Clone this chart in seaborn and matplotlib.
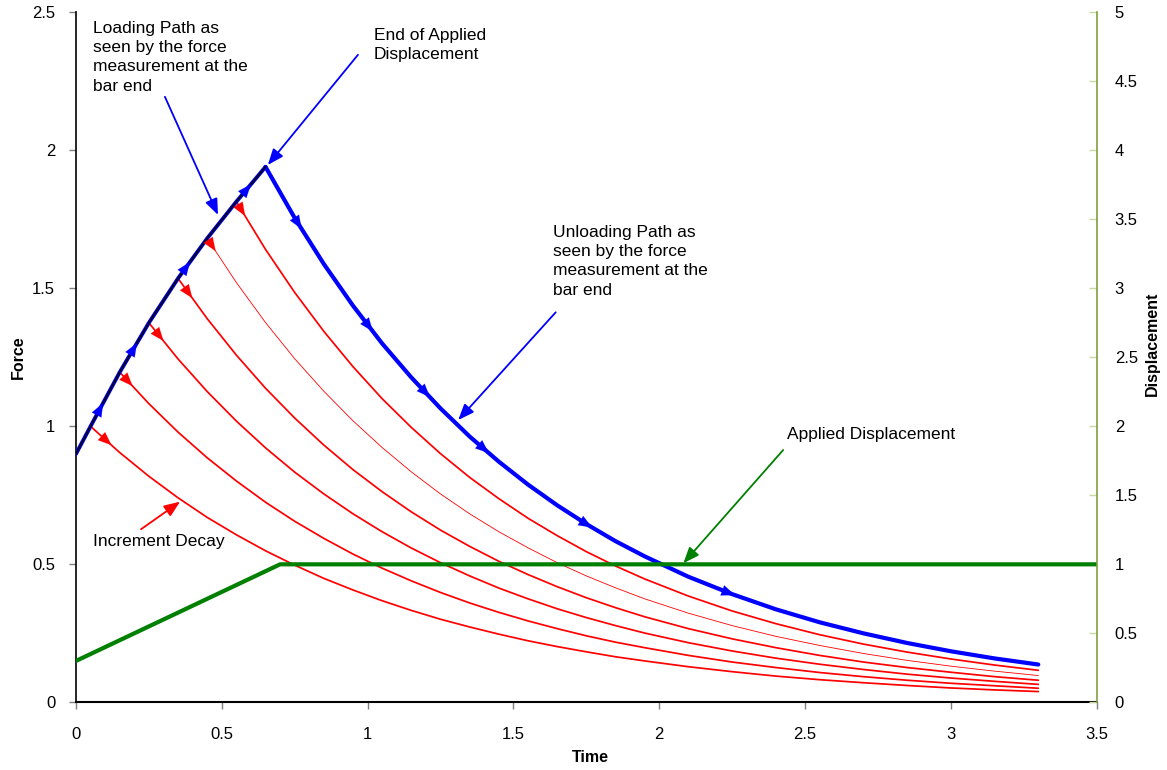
import numpy as np
import matplotlib
matplotlib.use("Agg")
import matplotlib.pyplot as plt
import seaborn as sns
from matplotlib.ticker import FuncFormatter

sns.set_theme(style="white")
plt.rcParams["font.family"] = ["Liberation Sans", "DejaVu Sans"]
plt.rcParams["text.color"] = "black"
plt.rcParams["axes.labelcolor"] = "black"
plt.rcParams["xtick.color"] = "black"
plt.rcParams["ytick.color"] = "black"

# Data
load_time = [0.0, 0.05, 0.15, 0.25, 0.35, 0.45, 0.55, 0.65]
load_force = [0.90, 1.00, 1.196, 1.375, 1.536, 1.681, 1.814, 1.94]

decay_time = [0.05, 0.15, 0.25, 0.35, 0.45, 0.55, 0.65, 0.75, 0.85, 0.95,
              1.05, 1.15, 1.25, 1.35, 1.45, 1.55, 1.65, 1.75, 1.85, 1.95,
              2.1, 2.25, 2.4, 2.55, 2.7, 2.85, 3.0, 3.15, 3.3]

decay_1 = [1.000, 0.905, 0.819, 0.741, 0.670, 0.607, 0.549, 0.497, 0.449, 0.407,
           0.368, 0.333, 0.301, 0.273, 0.247, 0.223, 0.202, 0.183, 0.165, 0.150,
           0.129, 0.111, 0.095, 0.082, 0.071, 0.061, 0.052, 0.045, 0.039]
decay_2 = [1.196, 1.082, 0.979, 0.886, 0.802, 0.725, 0.656, 0.594, 0.537,
           0.486, 0.440, 0.398, 0.360, 0.326, 0.295, 0.267, 0.241, 0.218, 0.198,
           0.170, 0.146, 0.126, 0.108, 0.093, 0.080, 0.069, 0.060, 0.051]
decay_3 = [1.375, 1.244, 1.126, 1.019, 0.922, 0.834, 0.755, 0.683,
           0.618, 0.559, 0.506, 0.458, 0.414, 0.375, 0.339, 0.307, 0.278, 0.251,
           0.216, 0.186, 0.160, 0.138, 0.119, 0.102, 0.088, 0.076, 0.065]
decay_4 = [1.536, 1.390, 1.258, 1.138, 1.030, 0.932, 0.843,
           0.763, 0.690, 0.624, 0.565, 0.511, 0.463, 0.419, 0.379, 0.343, 0.310,
           0.267, 0.230, 0.198, 0.170, 0.146, 0.126, 0.109, 0.093, 0.080]
decay_5 = [1.681, 1.521, 1.376, 1.245, 1.127, 1.020,
           0.923, 0.835, 0.755, 0.683, 0.618, 0.560, 0.506, 0.458, 0.415, 0.375,
           0.323, 0.278, 0.239, 0.206, 0.177, 0.152, 0.131, 0.113, 0.097]
decay_6 = [1.814, 1.641, 1.485, 1.344, 1.216,
           1.100, 0.996, 0.901, 0.815, 0.738, 0.667, 0.604, 0.546, 0.494, 0.447,
           0.385, 0.331, 0.285, 0.245, 0.211, 0.182, 0.157, 0.135, 0.116]
unload_force = [1.940, 1.755, 1.588, 1.437,
                1.300, 1.177, 1.065, 0.963, 0.872, 0.789, 0.714, 0.646, 0.584, 0.529,
                0.455, 0.392, 0.337, 0.290, 0.250, 0.215, 0.185, 0.159, 0.137]

disp_time = [0.0, 0.7, 3.5]
disp_value = [0.3, 1.0, 1.0]

RED = "#ff0000"
BLUE = "#0000ff"
GREEN = "#008000"

fig, ax = plt.subplots(figsize=(11.67, 7.70), dpi=100)
fig.subplots_adjust(left=0.0651, right=0.9397, bottom=0.0879, top=0.984)
ax2 = ax.twinx()

HEAD = "-|>,head_length=0.8,head_width=0.32"


def tail(values):
    return decay_time[len(decay_time) - len(values):]


def head(t, f, at, color, scale=12):
    # arrowhead sitting on a curve, pointing along it
    x0 = at - 0.02
    ax.annotate("", xy=(at, np.interp(at, t, f)), xytext=(x0, np.interp(x0, t, f)),
                arrowprops=dict(arrowstyle=HEAD, color=color, lw=0.1,
                                mutation_scale=scale, shrinkA=0, shrinkB=0),
                zorder=6)


red_curves = [decay_1, decay_2, decay_3, decay_4, decay_5, decay_6]
red_widths = [1.25, 1.25, 1.25, 1.25, 0.6, 1.25]
red_arrow_t = [0.122, 0.194, 0.30, 0.399, 0.479, 0.58]
for vals, lw, at in zip(red_curves, red_widths, red_arrow_t):
    t = tail(vals)
    sns.lineplot(x=t, y=vals, ax=ax, color=RED, lw=lw, sort=False, estimator=None, zorder=3)
    head(t, vals, at, RED, 12)

t_un = tail(unload_force)
sns.lineplot(x=t_un, y=unload_force, ax=ax, color=BLUE, lw=3.0, sort=False, estimator=None, zorder=4)
for at in [0.774, 1.018, 1.214, 1.416, 1.77, 2.26]:
    head(t_un, unload_force, at, BLUE, 12)

sns.lineplot(x=load_time, y=load_force, ax=ax, color=BLUE, lw=2.8, sort=False, estimator=None, zorder=4)
sns.lineplot(x=load_time, y=load_force, ax=ax, color="#000033", lw=1.6, sort=False, estimator=None, zorder=5)
for at in [0.093, 0.209, 0.391, 0.60]:
    head(load_time, load_force, at, BLUE, 12)

sns.lineplot(x=disp_time, y=disp_value, ax=ax2, color=GREEN, lw=3.0, sort=False, estimator=None)

# annotations
txt = dict(fontsize=12.5, color="black", linespacing=1.36)
arr = dict(arrowstyle=HEAD, lw=1.3, mutation_scale=12, shrinkA=0, shrinkB=0)
ax.text(0.059, 2.47, "Loading Path as\nseen by the force\nmeasurement at the\nbar end", va="top", **txt)
ax.annotate("", xy=(0.487, 1.766), xytext=(0.305, 2.194), arrowprops=dict(color=BLUE, **arr))
ax.text(1.022, 2.443, "End of Applied\nDisplacement", va="top", **txt)
ax.annotate("", xy=(0.658, 1.947), xytext=(0.967, 2.346), arrowprops=dict(color=BLUE, **arr))
ax.text(1.637, 1.73, "Unloading Path as\nseen by the force\nmeasurement at the\nbar end", va="top", **txt)
ax.annotate("", xy=(1.311, 1.023), xytext=(1.645, 1.413), arrowprops=dict(color=BLUE, **arr))
ax.text(2.438, 0.954, "Applied Displacement", va="baseline", **txt)
ax.annotate("", xy=(2.083, 0.504), xytext=(2.425, 0.914), arrowprops=dict(color=GREEN, **arr))
ax.text(0.059, 0.567, "Increment Decay", va="baseline", **txt)
ax.annotate("", xy=(0.357, 0.727), xytext=(0.223, 0.627), arrowprops=dict(color=RED, **arr))

# axes
fmt = FuncFormatter(lambda v, p: f"{v:g}")
ax.set_xlim(0, 3.5)
ax.set_ylim(0, 2.5)
ax2.set_ylim(0, 5)
ax.set_xticks(np.arange(0, 3.51, 0.5))
ax.set_yticks(np.arange(0, 2.51, 0.5))
ax2.set_yticks(np.arange(0, 5.01, 0.5))
for a in (ax.xaxis, ax.yaxis, ax2.yaxis):
    a.set_major_formatter(fmt)

lab = dict(fontsize=11.5, fontweight="bold", color="black")
ax.set_xlabel("Time", **lab)
ax.set_ylabel("Force", **lab)
ax2.set_ylabel("Displacement", **lab)
ax.xaxis.set_label_coords(0.504, -0.069)
ax.yaxis.set_label_coords(-0.049, 0.5)
ax2.yaxis.set_label_coords(1.047, 0.52)

ax.tick_params(axis="x", direction="out", length=5, width=1, color="#808080", pad=13,
               labelsize=12, labelcolor="black")
ax.tick_params(axis="y", direction="out", length=5, width=1, color="#808080", pad=10,
               labelsize=12, labelcolor="black")
ax.tick_params(left=True, bottom=True)
ax2.tick_params(axis="y", direction="in", length=6, width=1, color="#c8d8a0", pad=13,
                labelsize=12, labelcolor="black", right=True)

for s in ("top", "right"):
    ax.spines[s].set_visible(False)
for s in ("top", "left", "bottom"):
    ax2.spines[s].set_visible(False)
ax.spines["left"].set_color("black")
ax.spines["bottom"].set_color("black")
ax.spines["left"].set_linewidth(1.2)
ax.spines["bottom"].set_linewidth(1.5)
ax2.spines["right"].set_color("#7fa040")
ax2.spines["right"].set_linewidth(1.2)

fig.savefig("out.png", dpi=100)
